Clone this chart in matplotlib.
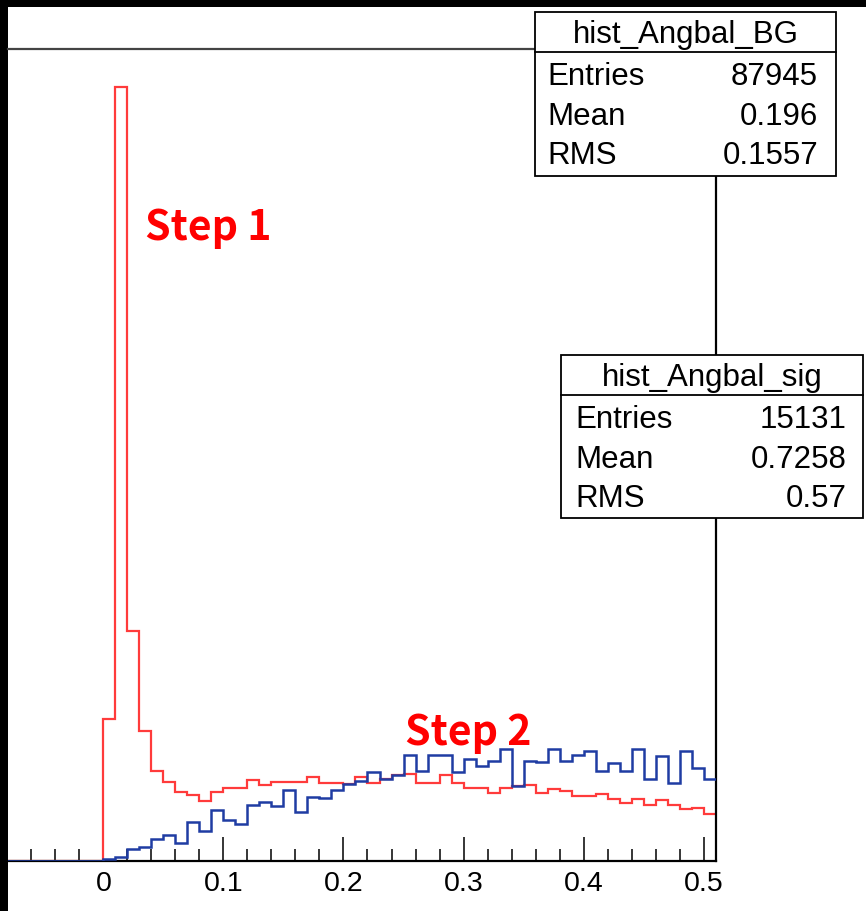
import matplotlib
matplotlib.use("Agg")
import matplotlib.pyplot as plt
from matplotlib.patches import Rectangle
from matplotlib.ticker import MultipleLocator
import numpy as np

# bin edges: 8 empty bins below 0, then 51 bins of width 0.01 up to 0.51
edges = np.round(np.arange(-0.08, 0.5101, 0.01), 3)

# background (red) and signal (blue), arbitrary count units, bins from 0.00
bg_counts = [141.5, 773.5, 229.8, 129.8, 89.8, 78.8, 68.8, 65.5, 59.8, 68.8,
             72.2, 72.2, 80.5, 75.5, 78.8, 79.0, 79.0, 83.5, 78.0, 78.0,
             77.0, 83.5, 78.0, 81.5, 85.5, 86.5, 78.0, 78.0, 86.0, 78.0,
             73.0, 73.0, 68.0, 73.0, 74.5, 76.0, 68.0, 72.0, 70.0, 65.0,
             65.0, 66.5, 61.5, 58.0, 62.0, 55.5, 60.5, 55.5, 51.5, 53.0,
             47.0]
sig_counts = [1.5, 3.2, 11.5, 13.2, 21.5, 25.5, 17.5, 38.8, 30.0, 51.0,
              41.0, 36.5, 56.0, 58.2, 54.5, 70.8, 49.0, 64.0, 62.5, 71.0,
              77.0, 79.8, 88.2, 81.5, 85.8, 105.5, 89.8, 105.5, 105.5, 88.2,
              101.5, 94.8, 99.2, 111.5, 74.8, 99.2, 98.2, 111.5, 99.2, 105.5,
              109.8, 89.8, 97.2, 89.8, 111.5, 81.5, 104.8, 77.5, 109.2, 92.2,
              81.5]
underflow = [0.0] * 8

bg_title = "hist_Angbal_BG"
bg_stats = [("Entries", "87945"), ("Mean", "0.196"), ("RMS", "0.1557")]
sig_title = "hist_Angbal_sig"
sig_stats = [("Entries", "15131"), ("Mean", "0.7258"), ("RMS", "0.57")]

W, H = 866, 912


def fx(x):
    return x / W


def fy(y):
    return 1 - y / H


fig = plt.figure(figsize=(W / 100, H / 100), dpi=100, facecolor="black")
fig.patches.append(Rectangle((fx(8), 0), 1 - fx(8), fy(8), transform=fig.transFigure,
                             facecolor="white", edgecolor="none", zorder=-10))

ax = fig.add_axes([fx(8), fy(861.5), fx(715.7) - fx(8), fy(50) - fy(861.5)])
ax.set_facecolor("white")

ax.stairs(underflow + bg_counts, edges, baseline=None, color="#ff3b3b", lw=1.6, zorder=2)
ax.stairs(underflow + sig_counts, edges, baseline=None, color="#1f3ca3", lw=1.8, zorder=3)

ax.set_xlim(-0.0794, 0.51)
ax.set_ylim(0, 811.5)

ax.spines["left"].set_visible(False)
ax.spines["top"].set_color("#444444")
ax.spines["top"].set_linewidth(1.6)
ax.spines["right"].set_linewidth(1.6)
ax.spines["bottom"].set_linewidth(1.6)

ax.xaxis.set_major_locator(MultipleLocator(0.1))
ax.xaxis.set_minor_locator(MultipleLocator(0.02))
ax.xaxis.set_major_formatter(matplotlib.ticker.FuncFormatter(lambda v, p: "0" if abs(v) < 1e-9 else f"{v:.1f}"))
ax.tick_params(axis="x", which="major", direction="in", length=17, width=1.1,
               labelsize=20.5, pad=6.5)
ax.tick_params(axis="x", which="minor", direction="in", length=8.5, width=1.1)
for lab in ax.get_xticklabels():
    lab.set_family("Liberation Sans")
ax.set_yticks([])

step_font = ["Noto Sans CJK JP", "DejaVu Sans"]
ax.text(0.0347, 621.5, "Step 1", color="red", fontsize=29.5, fontweight="bold",
        family=step_font, va="baseline", ha="left", zorder=5)
ax.text(0.2513, 116.5, "Step 2", color="red", fontsize=29.5, fontweight="bold",
        family=step_font, va="baseline", ha="left", zorder=5)


def stats_box(left, top, right, bottom, sep, title, rows, lab_x, val_x):
    fig.add_artist(Rectangle((fx(left), fy(bottom)), fx(right) - fx(left), fy(top) - fy(bottom),
                             transform=fig.transFigure, facecolor="white",
                             edgecolor="black", lw=1.3, zorder=10))
    fig.add_artist(plt.Line2D([fx(left), fx(right)], [fy(sep), fy(sep)],
                              transform=fig.transFigure, color="black", lw=1.3, zorder=11))
    fig.text(fx((left + right) / 2), fy(top + 30), title, ha="center", va="baseline",
             fontsize=22.5, family="Liberation Sans", zorder=12)
    for i, (lab, val) in enumerate(rows):
        yb = top + [72, 112, 151][i]
        fig.text(fx(lab_x), fy(yb), lab, ha="left", va="baseline",
                 fontsize=22.5, family="Liberation Sans", zorder=12)
        fig.text(fx(val_x), fy(yb), val, ha="right", va="baseline",
                 fontsize=22.5, family="Liberation Sans", zorder=12)


stats_box(535, 13, 836, 177, 53, bg_title, bg_stats, 547, 818)
stats_box(561, 356, 863, 519, 396, sig_title, sig_stats, 575, 847)

fig.savefig("out.png", dpi=100, facecolor=fig.get_facecolor())
